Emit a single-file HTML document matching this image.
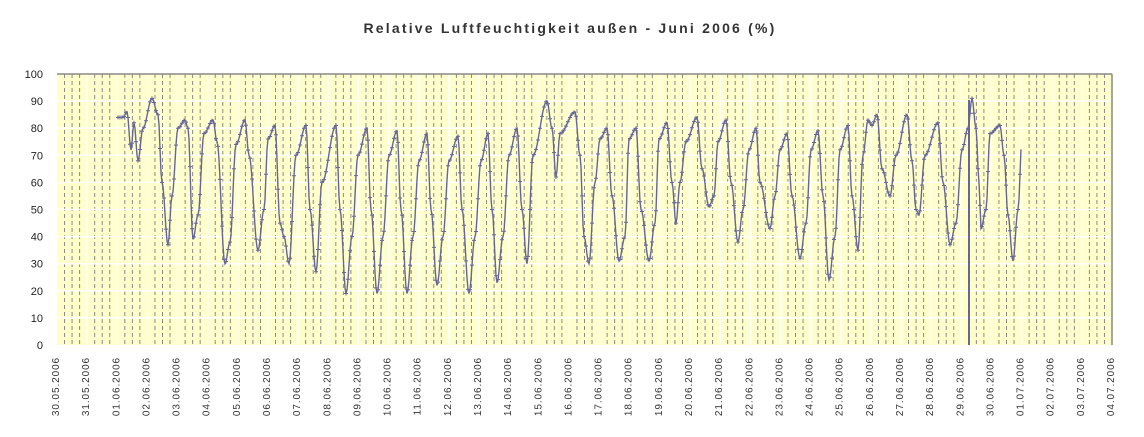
<!DOCTYPE html>
<html><head><meta charset="utf-8"><style>
html,body{margin:0;padding:0;background:#fff;width:1144px;height:437px;overflow:hidden}
svg{display:block;font-family:"Liberation Sans",sans-serif}
</style></head><body>
<svg id="s" width="1144" height="437" xmlns="http://www.w3.org/2000/svg">
<text x="570" y="33" text-anchor="middle" font-size="14" font-weight="bold" fill="#333" letter-spacing="2.2">Relative Luftfeuchtigkeit außen - Juni 2006 (%)</text>
<rect x="57" y="74" width="1055" height="271" fill="#ffffcc"/>
<g id="grid"></g>
<line x1="57" y1="74" x2="1112" y2="74" stroke="#888" stroke-width="1.5"/>
<line x1="1112" y1="74" x2="1112" y2="345" stroke="#888" stroke-width="1.5"/>
<g id="yl" font-size="11" fill="#222" text-anchor="end"></g>
<g id="xl" font-size="10" fill="#333" letter-spacing="0.9"></g>
<path id="ln" fill="none" stroke="#666699" stroke-width="1.4"/>
<path id="mk" fill="none" stroke="#666699" stroke-width="1"/>
<line x1="969" y1="100" x2="969" y2="345" stroke="#666699" stroke-width="2"/>
</svg>
<script>
const X0=57,X1=1112,Y0=345,Y1=74,dw=(X1-X0)/35;
const Y=v=>Y0-(Y0-Y1)*v/100;
let g='';
for(let i=0;i<=35*4;i++){const x=X0+i*dw/4;if(i%4)g+=`<line x1="${x}" y1="74" x2="${x}" y2="345" stroke="#888" stroke-dasharray="4,3"/>`;}
for(let i=1;i<35;i++){const x=X0+i*dw;g+=`<line x1="${x}" y1="74" x2="${x}" y2="345" stroke="#fff" stroke-width="1.5"/>`;}
for(let v=10;v<100;v+=10)g+=`<line x1="57" y1="${Y(v)}" x2="1112" y2="${Y(v)}" stroke="#fff" stroke-width="1.5"/>`;
document.getElementById('grid').innerHTML=g;
let yl='';for(let v=0;v<=100;v+=10)yl+=`<text x="43" y="${Y(v)+4}">${v}</text>`;
document.getElementById('yl').innerHTML=yl;
const days=['30.05','31.05'];for(let d=1;d<=30;d++)days.push((d<10?'0':'')+d+'.06');for(let d=1;d<=4;d++)days.push('0'+d+'.07');
let xl='';days.forEach((d,i)=>{const x=X0+i*dw+2;xl+=`<text transform="translate(${x},357) rotate(-90)" text-anchor="end">${d}.2006</text>`});
document.getElementById('xl').innerHTML=xl;
const P=[[117,84],[123,84],[127,86],[131,72],[134,82],[138,68],[143,80],[152,91],[158,85],[162,60],[168,37],[172,55],[178,80],[185,83],[188,80],[193,39],[198,48],[204,78],[213,83],[217,75],[225,30],[230,38],[236,74],[245,83],[249,70],[258,35],[264,50],[268,76],[275,81],[280,45],[284,40],[289,30],[296,70],[306,81],[310,50],[316,27],[322,60],[336,81],[340,50],[346,19],[352,40],[358,70],[367,80],[371,50],[377,19],[383,40],[389,70],[397,79],[401,50],[407,19],[413,40],[419,68],[427,78],[431,50],[437,22],[443,40],[449,68],[458,77],[462,50],[469,19],[475,40],[481,68],[488,78],[492,50],[497,23],[503,40],[509,70],[517,80],[522,50],[527,30],[533,70],[547,90],[552,80],[556,62],[560,78],[575,86],[580,70],[584,40],[589,30],[595,60],[600,76],[607,80],[612,55],[619,31],[625,40],[629,76],[636,80],[641,50],[649,31],[655,45],[659,76],[667,82],[672,60],[676,45],[680,60],[686,75],[697,84],[702,65],[709,51],[714,55],[718,75],[726,83],[731,60],[738,38],[743,50],[749,72],[756,80],[760,60],[770,43],[775,55],[780,72],[787,78],[792,55],[800,32],[806,45],[811,72],[818,79],[823,55],[829,24],[835,40],[840,72],[848,81],[852,55],[858,35],[863,70],[868,83],[872,81],[877,85],[882,65],[890,55],[896,70],[907,85],[912,68],[916,50],[919,48],[925,70],[938,82],[943,60],[950,37],[956,45],[962,72],[968,80],[972,91],[976,80],[979,60],[981,43],[986,50],[990,78],[1000,81],[1004,70],[1008,48],[1013,31],[1018,50],[1022,76]];
let d='',m='';
for(let k=0;k<P.length-1;k++){const [xa,va]=P[k],[xb,vb]=P[k+1];
 for(let x=xa;x<xb;x+=1){const t=(x-xa)/(xb-xa);const v=va+(vb-va)*(1-Math.cos(Math.PI*t))/2;const y=Y(v);
  d+=(d?'L':'M')+x+','+y.toFixed(1);
  if(x%2==0)m+=`M${x-2},${y.toFixed(1)}h4M${x},${(y-2).toFixed(1)}v4`;}}
document.getElementById('ln').setAttribute('d',d);
document.getElementById('mk').setAttribute('d',m);
</script>
</body></html>
